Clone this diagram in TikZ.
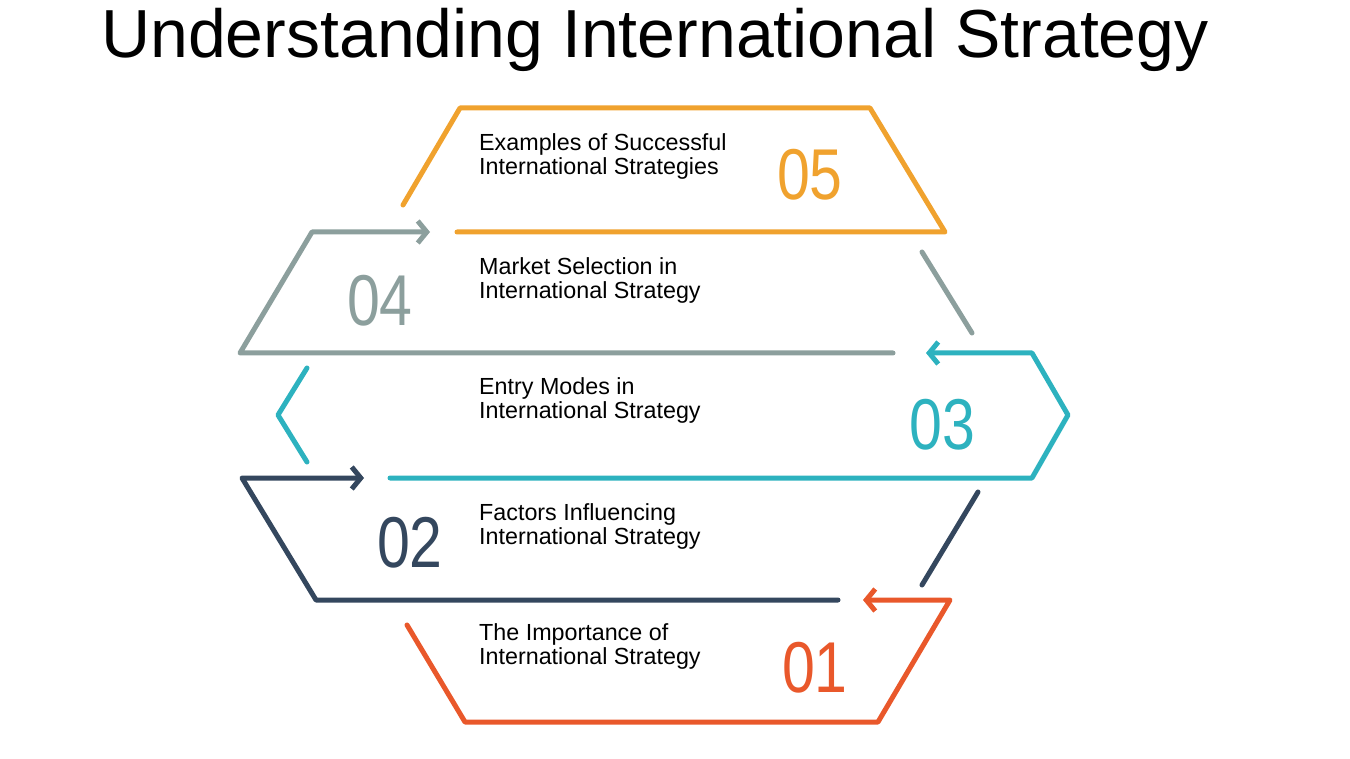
\documentclass[tikz,border=0pt]{standalone}
\usepackage{fontspec}
\setmainfont{Liberation Sans}
\usetikzlibrary{arrows.meta}
\definecolor{cfive}{HTML}{F0A22E}
\definecolor{cfour}{HTML}{8C9F9D}
\definecolor{cthree}{HTML}{2DB2BF}
\definecolor{ctwo}{HTML}{34475E}
\definecolor{cone}{HTML}{E9582B}
\begin{document}
\begin{tikzpicture}[x=1pt,y=-1pt]
\tikzset{
    part/.style={line width = 5pt, line cap=round, line join=round},
    tip/.style={-{Straight Barb[length=9pt,width=22pt,line width=5pt]}},
    label/.style={anchor=west, align=left, inner sep=0pt, font=\fontsize{23.3}{24}\selectfont},
    num/.style={font=\fontsize{72}{72}\selectfont, xscale=0.82}}
\def\lx{479}

\useasboundingbox (0,0) rectangle (1350,759);
\node (title) at (655,40) {\fontsize{68}{68}\selectfont Understanding International Strategy};

% 05
\draw[part, cfive] (457,232) -- (945,232) -- (870,108) -- (460,108) -- (403,205);
\node[label] (t5) at (\lx,156) {Examples of Successful\\International Strategies};
\node[num, cfive] (n5) at (810,175) {05};

% 04
\draw[part, cfour, tip] (893,353) -- (240,353) -- (312,232) -- (430,232);
\draw[part, cfour] (922,252) -- (972,333);
\node[label] (t4) at (\lx,280) {Market Selection in\\International Strategy};
\node[num, cfour] (n4) at (380,301) {04};

% 03
\draw[part, cthree, tip] (390,478) -- (1032,478) -- (1068,415) -- (1032,353) -- (926,353);
\draw[part, cthree] (307,368) -- (278,415) -- (307,462);
\node[label] (t3) at (\lx,400) {Entry Modes in\\International Strategy};
\node[num, cthree] (n3) at (942,425) {03};

% 02
\draw[part, ctwo, tip] (838,600) -- (316,600) -- (242,478) -- (364,478);
\draw[part, ctwo] (978,492) -- (922,585);
\node[label] (t2) at (\lx,526) {Factors Influencing\\International Strategy};
\node[num, ctwo] (n2) at (410,543) {02};

% 01
\draw[part, cone, tip] (407,625) -- (465,722) -- (878,722) -- (950,600) -- (863,600);
\node[label] (t1) at (\lx,646) {The Importance of\\International Strategy};
\node[num, cone] (n1) at (815,668) {01};
\end{tikzpicture}
\end{document}
